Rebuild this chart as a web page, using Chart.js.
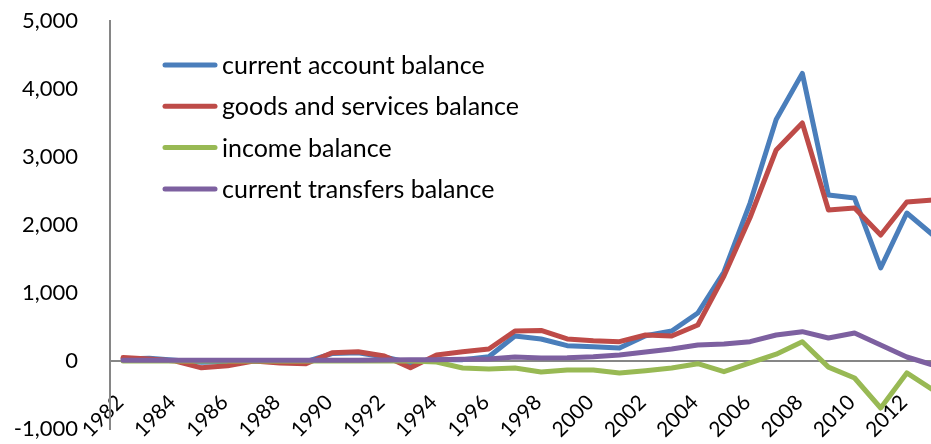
<!DOCTYPE html>
<html>
<head>
<meta charset="utf-8">
<script src="https://cdn.jsdelivr.net/npm/chart.js@4"></script>
<style>
  html, body { margin: 0; padding: 0; background: #fff; overflow: hidden; }
  #wrap { width: 946px; height: 444px; }
</style>
</head>
<body>
<div id="wrap"><canvas id="balanceChart" width="946" height="444"></canvas></div>
<script>
// Balance components by year
const years = ['1982','1983','1984','1985','1986','1987','1988','1989','1990','1991',
  '1992','1993','1994','1995','1996','1997','1998','1999','2000','2001',
  '2002','2003','2004','2005','2006','2007','2008','2009','2010','2011','2012','2013'];

const currentAccount = [30, 40, 10, -20, -10, 0, -10, -10, 110, 120,
  60, -30, 20, 20, 63, 368, 324, 225, 211, 191,
  372, 441, 706, 1309, 2323, 3550, 4230, 2441, 2397, 1368, 2176, 1853];

const goodsServices = [50, 30, 0, -100, -70, 0, -30, -40, 122, 137,
  73, -100, 88, 137, 176, 441, 450, 324, 299, 284,
  382, 368, 529, 1250, 2110, 3103, 3500, 2220, 2250, 1853, 2338, 2368];

const incomeBalance = [0, 0, 0, 0, 0, 0, 0, 0, 0, 0,
  0, 0, -15, -103, -118, -103, -162, -132, -132, -176,
  -142, -103, -40, -157, -29, 100, 284, -90, -250, -691, -176, -426];

const transfersBalance = [10, 10, 10, 10, 10, 10, 10, 10, 10, 10,
  15, 20, 20, 25, 29, 59, 44, 49, 63, 88,
  132, 176, 235, 250, 284, 382, 431, 338, 412, 235, 59, -59];

const seriesNames = ['current account balance', 'goods and services balance',
  'income balance', 'current transfers balance'];
const seriesColors = ['#4A7EBB', '#BE4B48', '#98B954', '#7D60A0'];

const yMin = -1000;
const yMax = 5000;
const yStep = 1000;

const FONT = 'Lato, "Open Sans", sans-serif';
const axisGray = '#868686';

// legend sits inside the plot, upper left
const insideLegend = {
  id: 'insideLegend',
  afterDraw(chart) {
    const ctx = chart.ctx;
    ctx.save();
    ctx.font = '25px ' + FONT;
    ctx.textBaseline = 'middle';
    ctx.lineCap = 'round';
    chart.data.datasets.forEach((ds, i) => {
      const y = 65 + i * 41.3;
      ctx.strokeStyle = ds.borderColor;
      ctx.lineWidth = 5;
      ctx.beginPath();
      ctx.moveTo(165, y);
      ctx.lineTo(215, y);
      ctx.stroke();
      ctx.fillStyle = '#000';
      ctx.fillText(ds.label, 222, y + 1);
    });
    ctx.restore();
  }
};

// keep the axes from reserving extra room around the plot
function noPadding(scale) {
  scale.paddingLeft = 0;
  scale.paddingRight = 0;
  scale.paddingTop = 0;
  scale.paddingBottom = 0;
}

const seriesData = [currentAccount, goodsServices, incomeBalance, transfersBalance];

const ctx = document.getElementById('balanceChart').getContext('2d');
new Chart(ctx, {
  type: 'line',
  data: {
    labels: years,
    datasets: seriesData.map((d, i) => ({
      label: seriesNames[i],
      data: d,
      borderColor: seriesColors[i],
      backgroundColor: seriesColors[i],
      borderWidth: 5,
      pointRadius: 0,
      tension: 0,
      borderJoinStyle: 'round',
      borderCapStyle: 'round',
      order: 3 - i // later series drawn on top
    }))
  },
  options: {
    responsive: false,
    animation: false,
    devicePixelRatio: 1,
    layout: { padding: { top: 21, bottom: 15, left: 0, right: 0 } },
    plugins: {
      legend: { display: false },
      tooltip: { enabled: false }
    },
    scales: {
      x: {
        type: 'category',
        offset: true,
        position: { y: 0 },
        grid: { display: false, drawTicks: false },
        border: { display: true, color: axisGray, width: 2 },
        afterFit: (scale) => { scale.height = 0; noPadding(scale); },
        ticks: {
          autoSkip: false,
          minRotation: 45,
          maxRotation: 45,
          padding: 29,
          labelOffset: -3,
          color: '#000',
          font: { family: FONT, size: 21 },
          callback: function (value, index) {
            return index % 2 === 0 ? this.getLabelForValue(value) : '';
          }
        }
      },
      y: {
        min: yMin,
        max: yMax,
        grid: { display: false, drawTicks: false },
        border: { display: true, color: axisGray, width: 2 },
        afterFit: (scale) => { scale.width = 110; noPadding(scale); },
        ticks: {
          stepSize: yStep,
          padding: 32,
          color: '#000',
          font: { family: FONT, size: 22 },
          callback: (v) => v.toLocaleString('en-US')
        }
      }
    }
  },
  plugins: [insideLegend]
});
</script>
</body>
</html>
